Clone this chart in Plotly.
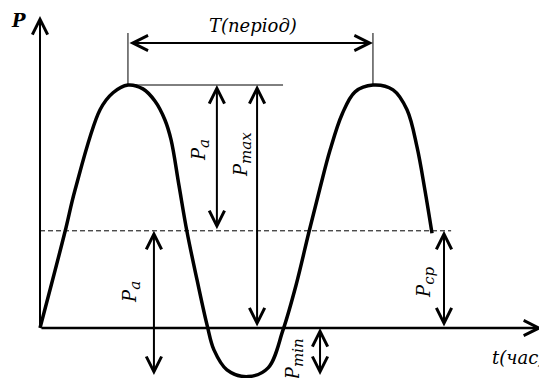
import plotly.graph_objects as go

# Curve (t in arbitrary units, period = 10; P with P_max = 5)
curve_t = [0, 1.02, 1.43, 2.45, 2.98, 3.59, 4.20, 4.69, 5.10, 5.35, 5.67, 6.00, 6.41,
           6.82, 7.10, 7.63, 8.49, 9.31, 9.92, 10.45, 10.98, 11.43, 11.84, 12.33,
           12.86, 13.59, 14.41, 14.98, 15.39, 15.71, 16.0]
curve_P = [0, 1.98, 2.84, 4.49, 4.84, 5.0, 4.92, 4.67, 4.28, 3.87, 2.94, 1.98, 0.99,
           0.06, -0.45, -0.86, -1.0, -0.82, -0.04, 0.88, 1.98, 2.88, 3.66, 4.40,
           4.86, 5.0, 4.90, 4.49, 3.72, 2.84, 1.95]

# Characteristic levels and times
P_max = 5.0
P_min = -1.0
P_cp = 2.0
t_peak1 = 3.59
t_peak2 = 13.59

FONT = "DejaVu Serif"
BLACK = "#000000"

fig = go.Figure()
fig.add_trace(go.Scatter(x=curve_t, y=curve_P, mode="lines",
                         line=dict(color=BLACK, width=3.5, shape="spline"),
                         hoverinfo="skip", showlegend=False))

shapes = []
# dashed mean line
shapes.append(dict(type="line", x0=0, x1=16.78, y0=P_cp, y1=P_cp,
                   line=dict(color=BLACK, width=1, dash="5px,3px")))
# thin horizontal at peak
shapes.append(dict(type="line", x0=t_peak1, x1=9.92, y0=P_max, y1=P_max,
                   line=dict(color=BLACK, width=1)))
# thin vertical guides for period
for tp in (t_peak1, t_peak2):
    shapes.append(dict(type="line", x0=tp, x1=tp, y0=P_max, y1=6.07,
                       line=dict(color=BLACK, width=1)))

ann = []

def arrow(x0, y0, x1, y1, width=2.0, double=True):
    size = 3.0 / width
    ann.append(dict(x=x1, y=y1, ax=x0, ay=y0, xref="x", yref="y", axref="x", ayref="y",
                    text="", showarrow=True, arrowhead=5, startarrowhead=5,
                    arrowsize=size, startarrowsize=size, arrowwidth=width,
                    arrowcolor=BLACK, arrowside="end+start" if double else "end",
                    standoff=0, startstandoff=0))

# axes
arrow(0, 0, 0, 6.42, width=2.0, double=False)
arrow(0, 0, 20.5, 0, width=2.5, double=False)
# period arrow
arrow(t_peak1, 5.864, t_peak2, 5.864, width=2.0)
# upper P_a
arrow(7.22, P_cp, 7.22, P_max)
# P_max
arrow(8.86, 0, 8.86, P_max)
# lower P_a
arrow(4.65, P_min, 4.65, P_cp)
# P_cp
arrow(16.49, 0, 16.49, P_cp)
# P_min
arrow(11.43, P_min, 11.43, 0)

def sub(main, s):
    return "<i>%s<sub><span style='font-size:15px'>%s</span></sub></i>" % (main, s)

def label(x, y, text, angle=0, size=18, xanchor="center"):
    ann.append(dict(x=x, y=y, xref="x", yref="y", text=text, showarrow=False,
                    textangle=angle, xanchor=xanchor, yanchor="middle",
                    font=dict(family=FONT, size=size, color=BLACK)))

label(8.7, 6.23, "<i>T(період)</i>", size=18)
label(-0.86, 6.32, "<b><i>P</i></b>", size=18)
label(18.37, -0.6, "<i>t(час)</i>", size=18, xanchor="left")
label(6.53, 3.66, sub("P", "a"), angle=-90)
label(8.29, 3.56, sub("P", "max"), angle=-90)
label(3.71, 0.74, sub("P", "a"), angle=-90)
label(15.76, 0.95, sub("P", "cp"), angle=-90)
label(10.37, -0.64, sub("P", "min"), angle=-90)

fig.update_layout(
    width=539, height=378,
    margin=dict(l=0, r=0, t=0, b=0),
    paper_bgcolor="white", plot_bgcolor="white",
    font=dict(family=FONT),
    xaxis=dict(range=[-40 / 24.5, 499 / 24.5], visible=False, fixedrange=True),
    yaxis=dict(range=[-50 / 48.6, 328 / 48.6], visible=False, fixedrange=True),
    shapes=shapes, annotations=ann, showlegend=False,
)

fig.write_html("out.html", config={"displayModeBar": False},
               post_script="document.body.style.margin='0';")
